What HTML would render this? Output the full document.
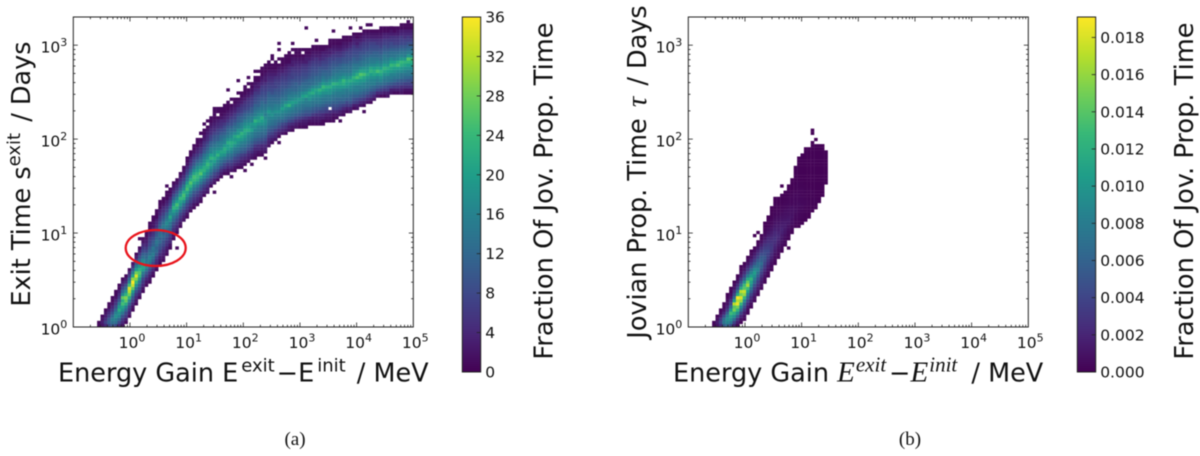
<!DOCTYPE html>
<html lang="en">
<head>
<meta charset="utf-8">
<title>Energy gain histograms</title>
<style>
html,body{margin:0;padding:0;background:#fff;width:1200px;height:456px;overflow:hidden}
svg{display:block;position:absolute;left:0;top:0;filter:blur(0.55px)}
text{font-family:"DejaVu Sans","Liberation Sans",sans-serif;fill:#111}
.cap{font-family:"Liberation Serif",serif;font-size:19px}
.math{font-family:"Liberation Serif",serif;font-style:italic}
</style>
</head>
<body>
<svg id="figure" width="1200" height="456" viewBox="0 0 1200 456" xmlns="http://www.w3.org/2000/svg">
  <defs>
    <linearGradient id="cbGrad" x1="0" y1="1" x2="0" y2="0"></linearGradient>
  </defs>
  <g id="panelA"></g>
  <g id="panelB"></g>

  <ellipse cx="155.7" cy="248" rx="30" ry="18" fill="none" stroke="#e8141c" stroke-width="2.3"/>

  <text x="58" y="381.7" font-size="25.5">Energy Gain E<tspan font-size="18" dy="-10" dx="3">exit</tspan><tspan dy="10" dx="2">−E</tspan><tspan font-size="18" dy="-10" dx="3">init</tspan><tspan dy="10" dx="3"> / MeV</tspan></text>
  <text transform="translate(30,174) rotate(-90)" text-anchor="middle" font-size="25.5">Exit Time s<tspan font-size="18" dy="-10">exit</tspan><tspan dy="10" dx="3"> / Days</tspan></text>
  <text transform="translate(552.7,191) rotate(-90)" text-anchor="middle" font-size="25.7">Fraction Of Jov. Prop. Time</text>
  <text class="cap" x="295" y="445" text-anchor="middle">(a)</text>

  <text x="673" y="381.7" font-size="25.5">Energy Gain <tspan class="math" font-size="29">E</tspan><tspan class="math" font-size="21" dy="-10" dx="1">exit</tspan><tspan dy="10" dx="3">−</tspan><tspan class="math" font-size="29">E</tspan><tspan class="math" font-size="21" dy="-10" dx="1">init</tspan><tspan dy="10" dx="6"> / MeV</tspan></text>
  <text transform="translate(646,172) rotate(-90)" text-anchor="middle" font-size="25.5">Jovian Prop. Time <tspan class="math" font-size="29" dx="3">τ</tspan><tspan dx="3"> / Days</tspan></text>
  <text transform="translate(1193,191) rotate(-90)" text-anchor="middle" font-size="25.7">Fraction Of Jov. Prop. Time</text>
  <text class="cap" x="910" y="445" text-anchor="middle">(b)</text>
</svg>
<script>
// ---------- Chart data ----------
var xTickExponents = [0, 1, 2, 3, 4, 5];
var yTickExponents = [0, 1, 2, 3];
var xLogRange = [-1, 5];
var yLogRange = [0, 3.3];
var binCountX = 100;
var binCountY = 100;

var colorbarTicksA = [0, 4, 8, 12, 16, 20, 24, 28, 32, 36];
var colorbarLabelsA = ["0", "4", "8", "12", "16", "20", "24", "28", "32", "36"];
var colorRangeA = [0, 36];
var colorbarTicksB = [0, 0.002, 0.004, 0.006, 0.008, 0.01, 0.012, 0.014, 0.016, 0.018];
var colorbarLabelsB = ["0.000", "0.002", "0.004", "0.006", "0.008", "0.010", "0.012", "0.014", "0.016", "0.018"];
var colorRangeB = [0, 0.0191];

// Panel (a): each column = [first y-bin, counts going upward]; first column is x-bin 7.
var firstColumnA = 7;
var columnsA = [
[0,1,1],
[0,2,3,2,1],
[0,4,7,5,3,2,1],
[0,8,11,10,7,5,3,1,1],
[0,10,13,15,12,9,6,4,2,1,1],
[0,8,13,15,18,16,12,9,6,4,2,1,1],
[0,4,8,12,16,18,22,19,15,10,7,5,3,1,1],
[0,2,4,6,9,14,18,21,25,22,27,17,12,8,5,3,1],
[1,1,3,6,8,12,16,22,27,29,23,18,13,9,5,3,1],
[3,1,3,5,7,11,16,22,28,32,34,25,17,12,7,4,1],
[5,1,2,4,7,10,15,20,27,33,36,30,21,15,10,5,2],
[7,1,2,4,6,9,13,18,24,29,34,28,20,15,10,6,3,1],
[9,1,3,5,7,10,14,19,24,26,23,19,16,12,9,6,3,1],
[11,1,2,4,6,8,12,15,20,21,18,17,13,11,8,6,4,2,1],
[13,1,2,4,7,10,14,17,15,14,12,11,8,6,4,3,2,1,1],
[14,1,2,3,5,8,11,13,15,16,13,12,10,8,7,6,4,3,1,1,1],
[16,1,2,4,6,8,11,13,15,13,14,11,10,8,6,5,4,2,2,1,1],
[18,1,2,4,5,7,10,12,11,13,14,12,10,9,7,5,4,3,1,1,1],
[20,1,2,3,5,7,9,10,12,11,13,12,14,11,9,7,6,4,3,1,1,1],
[21,1,2,3,4,6,8,9,11,12,10,13,15,13,11,9,7,5,4,2,1,1],
[23,1,2,3,5,6,8,10,11,13,15,17,15,13,11,8,6,4,3,1,1,1],
[25,1,2,4,5,7,9,11,13,14,18,21,17,15,11,8,6,4,2,1,1],
[28,1,2,4,5,7,9,12,14,17,20,23,19,15,11,8,5,3,2,1],
[30,1,3,4,6,8,11,14,17,22,25,20,16,12,9,6,4,2,1],
[32,1,2,4,6,8,11,15,19,21,24,19,15,11,8,6,4,2,1],
[34,2,3,5,7,10,13,18,23,25,22,17,14,10,7,5,3,2,1],
[35,1,2,4,6,8,11,14,18,21,25,23,19,14,11,8,6,4,2,1,1],
[37,1,3,5,7,9,12,15,19,23,26,22,18,14,11,8,6,4,3,1,1],
[38,1,2,4,6,8,10,14,17,21,24,25,21,17,13,10,8,6,4,2,1,1],
[39,1,3,4,6,8,11,14,18,22,24,23,20,17,14,11,8,6,4,3,1,1,1],
[40,1,2,4,5,8,10,14,17,21,26,23,19,16,13,11,9,6,5,3,2,1,0,1],
[42,1,3,5,7,10,13,17,20,23,22,19,17,15,13,10,8,6,5,3,2,1,1],
[43,2,3,5,7,9,13,16,19,22,24,21,18,16,13,11,9,7,5,4,3,2,1,0,1],
[45,1,4,6,9,12,15,18,21,19,23,20,16,15,12,11,8,7,5,4,3,2,1,1],
[46,2,3,6,8,11,14,17,20,22,19,18,16,14,12,10,9,7,5,4,3,2,1,1,1],
[47,1,4,6,9,12,14,16,19,23,20,17,15,14,11,10,8,7,5,4,3,1,0,1,1],
[48,1,3,5,8,11,13,16,19,21,18,16,15,13,12,10,8,6,5,4,2,1,1,1],
[49,1,3,6,8,11,14,18,21,22,19,16,15,13,11,9,8,6,4,3,2,1,1,1],
[49,1,2,4,6,9,12,14,17,20,20,22,18,15,13,12,10,8,6,4,3,2,1,1,1],
[50,2,4,6,8,11,13,16,18,21,22,19,17,15,13,11,9,8,6,4,3,2,1,0,1],
[50,1,2,4,6,8,11,13,15,18,21,19,21,17,14,13,11,9,7,6,4,3,2,1,1],
[51,1,3,5,7,9,12,14,16,18,20,23,19,18,14,13,11,10,8,6,5,3,2,1,0,1],
[51,1,2,3,5,7,10,12,14,16,19,21,23,18,16,15,12,11,9,7,6,5,3,2,1,1],
[52,1,2,4,6,9,11,13,15,17,19,21,22,19,17,15,12,11,9,7,6,5,3,2,1,1],
[53,1,3,4,6,9,11,13,15,16,18,22,20,18,16,14,12,10,8,7,6,5,3,2,1,0,1],
[54,2,3,5,7,9,11,13,15,16,20,18,19,16,15,13,11,10,8,7,6,5,3,2,1,1],
[54,1,2,3,4,6,9,11,13,14,16,18,20,23,18,15,14,12,11,9,8,7,6,4,3,2,1,1],
[55,1,2,4,5,8,10,12,13,15,16,18,21,19,17,15,13,11,10,9,8,6,5,3,3,1,1,0,1],
[55,1,2,3,4,7,9,11,12,14,15,18,20,22,18,16,14,13,12,10,9,8,7,6,4,3,2,1,1,1],
[56,2,3,4,6,8,10,12,13,15,17,18,17,15,16,14,13,11,10,9,8,7,6,5,3,3,2,1,0,1],
[58,2,3,4,6,8,10,12,14,15,16,17,19,16,14,13,12,11,10,8,7,6,5,4,3,2,1,1,1],
[59,1,3,5,7,9,11,13,14,16,18,17,15,14,13,12,11,9,8,7,6,5,4,3,2,1,1,0,1],
[60,2,4,5,7,10,12,13,15,16,18,16,15,13,12,11,10,9,7,7,6,5,3,2,1,1,1],
[61,1,3,5,8,10,12,14,16,18,16,15,13,12,11,10,9,8,7,6,5,4,3,2,1,0,1],
[62,2,4,6,8,11,14,15,17,20,17,15,14,12,11,10,9,8,7,6,5,3,2,1,1,1],
[62,1,3,5,7,10,12,14,16,18,21,17,14,13,12,11,9,8,7,6,5,4,3,2,1,1,1],
[63,2,3,5,8,11,13,15,17,23,19,16,15,13,12,10,9,8,7,6,5,4,3,1,1,1,1],
[63,1,2,4,7,10,12,14,16,18,20,17,15,14,12,11,10,9,7,7,6,5,3,3,2,1,0,1],
[64,2,3,5,8,11,13,14,16,19,18,16,14,12,11,11,9,8,7,6,5,4,3,2,1,1,1],
[64,1,2,4,7,10,12,14,15,17,19,16,15,13,12,10,9,8,7,6,5,4,3,2,1,1,1],
[64,1,2,3,6,9,11,13,14,16,18,20,17,14,13,12,10,9,8,7,6,5,3,2,1,0,1],
[64,1,2,3,5,8,10,12,14,15,16,21,18,15,13,12,11,9,8,7,6,5,3,3,2,1,1],
[65,1,2,4,8,10,12,14,15,18,19,21,17,14,12,12,10,9,8,7,6,5,3,2,1,1],
[65,1,2,3,6,9,11,13,14,16,18,22,20,16,13,12,11,10,9,8,7,6,4,3,2,1,1],
[65,1,2,3,5,8,10,12,14,15,17,19,21,17,14,13,12,10,9,8,7,6,5,3,2,1,1],
[65,1,2,3,5,7,10,12,14,15,17,20,23,18,16,13,12,11,10,9,7,6,4,3,2,1,1],
[65,1,1,3,4,7,9,11,13,14,16,18,21,24,19,16,14,12,11,9,8,7,5,4,3,1,1],
[66,1,2,3,6,8,10,12,14,15,18,20,22,18,15,13,12,11,9,8,7,6,4,3,2,1],
[66,1,2,3,5,0,10,12,14,15,18,19,22,19,17,14,12,11,10,9,8,7,5,3,3,1,1],
[66,1,1,2,4,7,9,11,13,14,16,18,20,23,18,16,14,13,11,10,9,7,6,4,3,2,1,1],
[67,1,2,4,7,9,11,12,14,15,17,19,22,18,16,15,13,12,10,9,8,6,5,3,2,1,1],
[68,2,3,6,8,10,12,14,15,17,19,21,20,17,15,14,12,11,9,8,6,5,3,2,1,1],
[68,1,2,4,7,10,12,13,15,16,19,22,24,19,16,14,13,12,10,9,7,6,4,3,2,1,1],
[69,1,3,6,8,11,13,14,15,18,20,21,18,16,14,13,12,10,9,8,7,5,3,2,1,1],
[69,2,3,6,9,11,12,14,16,17,19,22,19,16,14,13,12,11,9,8,7,6,4,3,1,1],
[70,1,3,7,9,11,13,15,16,18,21,23,19,17,15,14,12,11,9,8,7,6,4,3,2,1],
[70,2,3,6,8,11,13,15,15,18,20,25,22,18,15,14,12,10,9,8,7,5,3,3,1,1],
[71,2,4,7,10,12,14,15,17,19,23,26,21,17,14,13,11,10,9,7,6,5,3,2,1],
[71,1,3,6,9,11,13,15,16,19,21,25,21,18,15,14,12,11,9,8,7,6,4,3,2,1],
[72,2,4,7,10,12,14,15,17,19,22,20,18,16,14,13,11,10,8,7,6,5,3,2,1],
[72,1,3,6,8,11,13,15,16,18,20,23,21,17,15,14,12,10,9,8,7,5,3,2,1],
[73,2,4,7,10,12,15,16,18,21,22,20,17,15,14,12,11,9,8,7,5,3,2,1],
[74,2,4,8,11,13,15,17,20,25,21,18,16,14,12,11,9,8,6,5,3,2,1],
[74,1,4,7,10,13,16,18,21,23,20,17,15,13,12,10,9,7,6,5,3,2,1],
[74,1,3,6,9,12,14,16,18,21,23,20,17,15,14,12,10,9,7,6,4,3,1,1],
[74,2,3,6,8,11,14,15,18,20,22,19,17,15,13,12,10,8,7,6,4,3,1,1],
[75,2,3,7,10,13,15,16,19,21,24,20,17,14,13,11,9,8,6,5,3,2,1],
[75,1,3,6,9,12,14,16,18,20,23,20,16,14,13,11,9,7,6,5,3,1,1],
[75,1,3,6,8,11,14,15,17,20,25,22,17,15,13,11,9,7,6,5,3,2,1],
[75,2,3,5,8,10,13,14,17,19,22,24,19,16,14,12,10,8,7,6,4,3,1,1],
[75,1,2,5,7,10,12,14,16,18,21,23,19,15,14,12,10,8,7,5,4,3,1,1],
[75,1,2,5,7,9,12,14,15,18,20,23,26,19,15,13,11,9,7,6,4,3,1,1],
[75,1,2,5,7,9,11,14,15,17,20,22,25,18,15,13,11,9,7,5,4,3,1,1]
];
// Isolated low-count bins in panel (a): [x-bin, y-bin, count]
var sparseBinsA = [
[68,96,1],[76,95,1],[81,96,1],[84,96,1],[86,97,1],[87,97,1],[90,96,1],[93,96,1],[98,98,1],
[60,91,1],[64,91,1],[60,89,1],[58,87,1],[71,92,1],[75,92,1],[51,80,1],[50,77,1],[53,82,1],
[56,83,1],[59,84,1],[48,79,1],[45,76,1],[41,70,1],[38,65,1],[37,62,1],[27,45,1],[85,69,1],
[50,50,1],[60,59,1],[56,54,1],[30,25,1],[19,28,1],[41,43,1],[46,48,1],[52,52,1],[78,66,1]
];

// Panel (b): values in units of 0.0001; first column is x-bin 7.
var firstColumnB = 7;
var valueUnitB = 0.0001;
var columnsB = [
[0,5,4],
[0,10,15,8,3],
[0,25,40,30,15,6,3],
[0,55,75,70,45,22,10,5,3],
[0,65,85,95,85,60,35,20,10,6,3,2],
[0,45,75,95,110,130,100,65,40,25,12,6,3,2],
[0,18,38,65,95,120,150,140,170,105,65,40,25,12,6,2],
[0,5,14,28,55,90,125,150,185,170,190,115,75,40,25,12,5,2],
[1,3,8,20,38,65,90,125,160,180,150,170,115,75,50,30,15,7,3,2],
[2,3,7,14,28,45,65,90,125,160,175,140,130,95,60,40,24,12,6,2],
[4,3,6,12,24,38,60,80,105,130,165,145,115,80,55,35,22,11,5,2],
[6,3,7,14,24,38,55,75,95,110,125,105,85,65,45,30,18,9,5,2],
[8,4,8,15,24,34,48,65,80,95,105,90,70,50,35,24,14,7,3],
[10,4,8,15,24,34,45,58,72,85,72,68,55,40,30,20,11,5,2],
[12,3,7,12,18,28,38,48,58,68,58,55,45,35,25,16,8,4,2],
[14,3,5,10,16,24,32,40,48,52,46,42,35,28,20,13,8,5,3,2,1],
[16,3,5,9,14,21,28,34,38,42,36,32,26,21,15,10,7,4,3,2,1],
[18,2,4,7,12,18,24,28,32,30,27,23,19,15,11,8,5,4,2,2,1,1],
[20,2,4,6,10,14,18,22,25,27,23,21,17,13,10,8,6,4,3,2,2,1,1],
[22,3,4,6,9,13,16,20,22,19,16,14,11,9,7,5,4,3,2,1,1],
[24,2,4,6,9,12,14,17,19,16,13,11,9,7,5,4,3,2,1,1],
[26,3,4,6,8,11,13,15,14,12,10,8,7,5,4,3,2,1,1],
[28,2,4,5,7,9,12,13,11,9,8,6,5,4,3,2,1,1,1],
[30,2,3,5,7,8,10,9,8,7,5,4,4,3,2,1,1,1,1],
[32,2,3,4,5,6,7,6,5,5,4,4,3,2,2,1,1,1,1,1,1],
[32,1,2,3,4,4,5,5,6,5,4,4,3,3,2,2,1,1,1,1,1,1,1,1],
[33,1,1,3,3,4,5,5,4,4,3,3,3,2,2,1,1,1,1,1,1,1,1,1],
[34,1,2,2,3,3,4,4,3,3,2,2,2,1,1,1,1,1,1,1,1,1,1,1,1],
[35,1,1,2,2,3,3,2,2,2,2,1,1,1,1,1,1,1,1,1,1,1,1,1],
[37,1,1,2,2,2,2,2,1,1,1,1,1,1,1,1,1,1,1,1,1,1,1],
[38,1,1,2,2,1,1,1,1,1,1,1,1,1,1,1,1,1,1,1,1,1],
[40,1,1,1,1,1,1,1,1,1,1,1,1,1,1,1,1,1,1,1],
[42,1,1,1,1,1,1,1,1,1,1,1,1,1,1,1,1,1],
[46,1,1,1,1,1,1,1,1,1,1,1]
];
var sparseBinsB = [[36,63,1],[36,62,1],[37,60,1],[36,59,1],[27,45,1],[29,25,1],[19,29,1],[20,30,1]];

// viridis colormap anchors
var viridis = ["#440154","#482878","#3e4989","#31688e","#26828e","#1f9e89","#35b779","#6ece58","#b5de2b","#fde725"];

// ---------- Helpers ----------
var NS = "http://www.w3.org/2000/svg";
function hexRgb(h){return [parseInt(h.substr(1,2),16),parseInt(h.substr(3,2),16),parseInt(h.substr(5,2),16)];}
function colormap(t){
  t = Math.max(0, Math.min(1, t));
  var p = t * (viridis.length - 1), i = Math.min(Math.floor(p), viridis.length - 2), f = p - i;
  var a = hexRgb(viridis[i]), b = hexRgb(viridis[i + 1]);
  return "rgb(" + Math.round(a[0] + (b[0] - a[0]) * f) + "," + Math.round(a[1] + (b[1] - a[1]) * f) + "," + Math.round(a[2] + (b[2] - a[2]) * f) + ")";
}
function add(parent, tag, attrs){
  var e = document.createElementNS(NS, tag);
  for (var k in attrs) e.setAttribute(k, attrs[k]);
  parent.appendChild(e);
  return e;
}
var grad = document.getElementById("cbGrad");
for (var s = 0; s <= 40; s++) {
  add(grad, "stop", {offset: (s / 40), "stop-color": colormap(s / 40)});
}

function drawPanel(cfg){
  var g = cfg.group;
  var box = cfg.box;
  function xScale(v){ return box.left + (v - xLogRange[0]) / (xLogRange[1] - xLogRange[0]) * (box.right - box.left); }
  function yScale(v){ return box.bottom - (v - yLogRange[0]) / (yLogRange[1] - yLogRange[0]) * (box.bottom - box.top); }
  var binW = (xLogRange[1] - xLogRange[0]) / binCountX;
  var binH = (yLogRange[1] - yLogRange[0]) / binCountY;

  function drawCell(col, row, val){
    if (!(val > 0)) return;
    var x0 = xScale(xLogRange[0] + col * binW), x1 = xScale(xLogRange[0] + (col + 1) * binW);
    var y1 = yScale(yLogRange[0] + row * binH), y0 = yScale(yLogRange[0] + (row + 1) * binH);
    var r = add(g, "rect", {x: x0.toFixed(2), y: y0.toFixed(2), width: (x1 - x0 + 0.15).toFixed(2), height: (y1 - y0 + 0.15).toFixed(2), fill: colormap((val * cfg.unit - cfg.range[0]) / (cfg.range[1] - cfg.range[0]))});
    
    
  }
  cfg.columns.forEach(function(c, k){
    for (var j = 1; j < c.length; j++) drawCell(cfg.firstColumn + k, c[0] + j - 1, c[j]);
  });
  cfg.sparse.forEach(function(p){ drawCell(p[0], p[1], p[2]); });

  // ticks
  function tick(x1, y1, x2, y2){
    var l = add(g, "line", {x1: x1, y1: y1, x2: x2, y2: y2, stroke: "#222", "stroke-width": 0.8});
    
    
  }
  var d, m, lg, px, py;
  for (d = xLogRange[0]; d <= xLogRange[1]; d++) {
    px = xScale(d);
    if (d > xLogRange[0] && d < xLogRange[1]) { tick(px, box.bottom, px, box.bottom - 4.5); tick(px, box.top, px, box.top + 4.5); }
    for (m = 2; m < 10 && d < xLogRange[1]; m++) {
      px = xScale(d + Math.log10(m));
      tick(px, box.bottom, px, box.bottom - 2.2); tick(px, box.top, px, box.top + 2.2);
    }
  }
  for (d = 0; d <= 3; d++) {
    py = yScale(d);
    if (d > 0) { tick(box.left, py, box.left + 4.5, py); tick(box.right, py, box.right - 4.5, py); }
    for (m = 2; m < 10; m++) {
      lg = d + Math.log10(m);
      if (lg > yLogRange[1]) break;
      py = yScale(lg);
      tick(box.left, py, box.left + 2.2, py); tick(box.right, py, box.right - 2.2, py);
    }
  }
  // tick labels
  function powLabel(x, y, exp, anchor, name){
    var t = add(g, "text", {x: x, y: y, "font-size": 15.5, "text-anchor": anchor});
    
    
    var a = document.createElementNS(NS, "tspan"); a.textContent = "10"; t.appendChild(a);
    var b = document.createElementNS(NS, "tspan"); b.textContent = String(exp);
    b.setAttribute("font-size", "11"); b.setAttribute("dy", "-6.5"); t.appendChild(b);
  }
  xTickExponents.forEach(function(e){ powLabel(xScale(e) + 2, 348, e, "middle", "x-tick-label"); });
  yTickExponents.forEach(function(e){ powLabel(box.left - 6, yScale(e) + 7.5, e, "end", "y-tick-label"); });

  // spine
  var frame = add(g, "rect", {x: box.left, y: box.top, width: box.right - box.left, height: box.bottom - box.top, fill: "none", stroke: "#222", "stroke-width": 1});
  
  

  // colorbar
  var cb = cfg.colorbar;
  function cScale(v){ return cb.bottom - (v - cfg.range[0]) / (cfg.range[1] - cfg.range[0]) * (cb.bottom - cb.top); }
  var bar = add(g, "rect", {x: cb.left, y: cb.top, width: cb.right - cb.left, height: cb.bottom - cb.top, fill: "url(#cbGrad)", stroke: "#222", "stroke-width": 1});
  
  
  cfg.cbTicks.forEach(function(v, i){
    var y = cScale(v);
    if (i > 0) tick(cb.right - 4, y, cb.right, y);
    var t = add(g, "text", {x: cb.right + 4.5, y: y + 5.5, "font-size": 15.5});
    
    
    t.textContent = cfg.cbLabels[i];
  });
}

drawPanel({
  group: document.getElementById("panelA"),
  box: {left: 73.3, right: 413.3, top: 17, bottom: 327},
  columns: columnsA, firstColumn: firstColumnA, sparse: sparseBinsA, unit: 1, range: colorRangeA,
  colorbar: {left: 462.3, right: 480.7, top: 17, bottom: 372},
  cbTicks: colorbarTicksA, cbLabels: colorbarLabelsA
});
drawPanel({
  group: document.getElementById("panelB"),
  box: {left: 688.3, right: 1028.3, top: 17, bottom: 327},
  columns: columnsB, firstColumn: firstColumnB, sparse: sparseBinsB, unit: valueUnitB, range: colorRangeB,
  colorbar: {left: 1077.3, right: 1095.7, top: 17, bottom: 372},
  cbTicks: colorbarTicksB, cbLabels: colorbarLabelsB
});
</script>
</body>
</html>
